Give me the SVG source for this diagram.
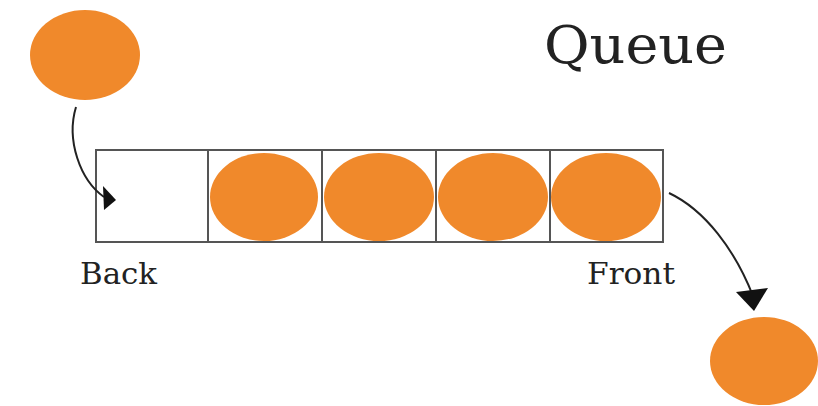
<svg xmlns="http://www.w3.org/2000/svg" width="818" height="406" viewBox="0 0 818 406">
<defs>
<style>
.ball{fill:#F0892B}
.cell{fill:#fff;stroke:#555;stroke-width:2}
.lbl{font-family:"DejaVu Serif","Liberation Serif",serif;fill:#222}
.conn{fill:none;stroke:#222;stroke-width:2}
</style>
</defs>
<rect width="818" height="406" fill="#fff"/>
<g id="title"><text class="lbl" x="544" y="63" font-size="52" textLength="183" lengthAdjust="spacingAndGlyphs">Queue</text></g>
<g id="queue">
<rect class="cell" x="96" y="150" width="112" height="92"/>
<rect class="cell" x="208" y="150" width="114" height="92"/>
<rect class="cell" x="322" y="150" width="114" height="92"/>
<rect class="cell" x="436" y="150" width="114" height="92"/>
<rect class="cell" x="550" y="150" width="113" height="92"/>
</g>
<g id="incoming"><ellipse class="ball" cx="85" cy="55" rx="55" ry="45"/></g>
<g id="item1"><ellipse class="ball" cx="264" cy="197" rx="54" ry="44"/></g>
<g id="item2"><ellipse class="ball" cx="379" cy="197" rx="55" ry="44"/></g>
<g id="item3"><ellipse class="ball" cx="493" cy="197" rx="55" ry="44"/></g>
<g id="item4"><ellipse class="ball" cx="606" cy="197" rx="55" ry="44"/></g>
<g id="outgoing"><ellipse class="ball" cx="764" cy="361" rx="54" ry="44"/></g>
<g id="labels">
<text class="lbl" x="80" y="284" font-size="29" textLength="77" lengthAdjust="spacingAndGlyphs">Back</text>
<text class="lbl" x="587" y="284" font-size="29" textLength="88" lengthAdjust="spacingAndGlyphs">Front</text>
</g>
<g id="connectors">
<path class="conn" d="M76,107 C66,140 80,180 104,197"/>
<path d="M103,186 L116,200 L104,210 Z" fill="#111"/>
<path class="conn" d="M669,193 C705,210 735,250 753,296"/>
<path d="M736,292 L768,288 L754,311 Z" fill="#111"/>
</g>
</svg>
